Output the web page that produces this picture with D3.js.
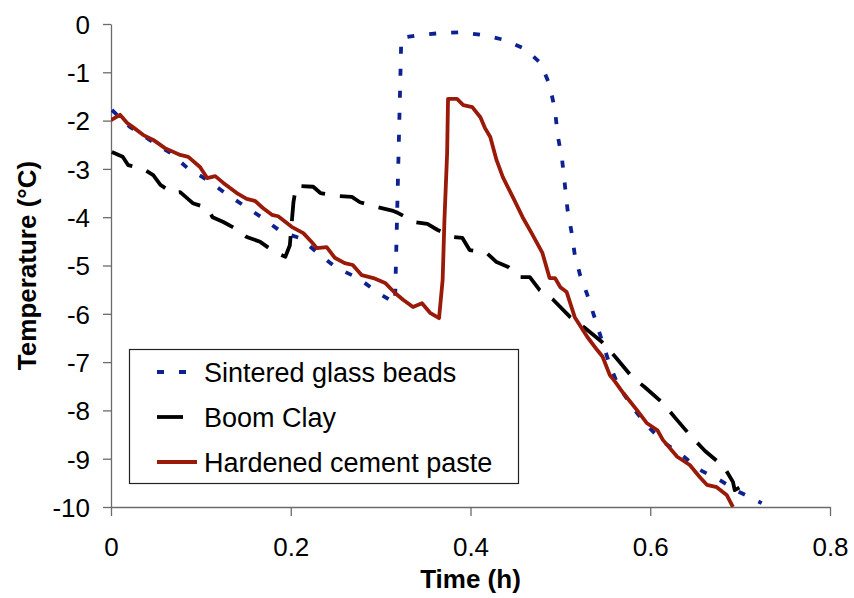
<!DOCTYPE html>
<html>
<head>
<meta charset="utf-8">
<script src="https://cdn.jsdelivr.net/npm/d3@7"></script>
<style>
  body { margin: 0; background: #fff; }
  svg { font-family: "Liberation Sans", Arial, sans-serif; }
  .axis path, .axis line { stroke: #6b6b6b; stroke-width: 1.3px; }
  .axis text { font-size: 26px; fill: #000; }
</style>
</head>
<body>
<div id="chart"></div>
<script>
/* values */

var seriesNames = ["Sintered glass beads", "Boom Clay", "Hardened cement paste"];
var xTicks = [0, 0.2, 0.4, 0.6, 0.8];
var yTicks = [0, -1, -2, -3, -4, -5, -6, -7, -8, -9, -10];

// Sintered glass beads
var glassTime = [0.001, 0.021, 0.043, 0.066, 0.085, 0.107, 0.127, 0.147, 0.169, 0.190,
  0.210, 0.230, 0.251, 0.275, 0.296, 0.316, 0.323, 0.342, 0.366, 0.389, 0.414, 0.438,
  0.461, 0.478, 0.488, 0.494, 0.497, 0.502, 0.505, 0.508, 0.513, 0.516, 0.522, 0.530,
  0.539, 0.546, 0.555, 0.564, 0.580, 0.596, 0.614, 0.635, 0.655, 0.677, 0.697, 0.724];
var glassTemp = [-1.78, -2.13, -2.40, -2.67, -2.98, -3.23, -3.50, -3.75, -4.02, -4.31,
  -4.43, -4.74, -5.05, -5.26, -5.55, -5.78, -0.29, -0.23, -0.19, -0.17, -0.23, -0.33,
  -0.52, -0.81, -1.26, -1.78, -2.30, -2.82, -3.33, -3.85, -4.37, -4.78, -5.20, -5.61,
  -6.13, -6.54, -7.06, -7.47, -7.93, -8.30, -8.65, -8.92, -9.23, -9.44, -9.67, -9.92];

// Boom Clay
var clayTime = [0.001, 0.013, 0.019, 0.036, 0.047, 0.055, 0.069, 0.077, 0.091, 0.107,
  0.113, 0.125, 0.141, 0.151, 0.166, 0.182, 0.194, 0.199, 0.203, 0.206, 0.225, 0.233,
  0.253, 0.268, 0.277, 0.296, 0.314, 0.319, 0.338, 0.352, 0.363, 0.381, 0.391, 0.399,
  0.418, 0.429, 0.442, 0.455, 0.466, 0.477, 0.492, 0.511, 0.527, 0.546, 0.561, 0.580,
  0.594, 0.614, 0.628, 0.646, 0.661, 0.682, 0.692, 0.694, 0.700, 0.711];
var clayTemp = [-2.65, -2.75, -2.92, -3.00, -3.13, -3.33, -3.50, -3.48, -3.71, -3.81,
  -4.00, -4.10, -4.26, -4.41, -4.51, -4.72, -4.82, -4.58, -3.69, -3.35, -3.37, -3.50,
  -3.56, -3.58, -3.69, -3.79, -3.87, -3.91, -4.10, -4.14, -4.26, -4.41, -4.43, -4.68,
  -4.74, -4.93, -5.03, -5.24, -5.24, -5.51, -5.71, -6.07, -6.29, -6.58, -6.89, -7.31,
  -7.52, -7.85, -8.16, -8.55, -8.84, -9.17, -9.48, -9.65, -9.59, -9.75];

// Hardened cement paste
var pasteTime = [0, 0.010, 0.018, 0.024, 0.036, 0.047, 0.060, 0.077, 0.086, 0.099,
  0.107, 0.116, 0.125, 0.140, 0.151, 0.160, 0.169, 0.179, 0.186, 0.201, 0.214, 0.224,
  0.229, 0.240, 0.249, 0.260, 0.269, 0.279, 0.292, 0.305, 0.316, 0.325, 0.336, 0.346,
  0.355, 0.365, 0.369, 0.371, 0.374, 0.375, 0.385, 0.392, 0.402, 0.411, 0.416, 0.422,
  0.429, 0.436, 0.447, 0.458, 0.468, 0.480, 0.488, 0.494, 0.500, 0.507, 0.516, 0.530,
  0.541, 0.547, 0.555, 0.561, 0.570, 0.585, 0.596, 0.608, 0.614, 0.630, 0.644, 0.655,
  0.663, 0.674, 0.685, 0.692];
var pasteTemp = [-1.99, -1.88, -2.05, -2.13, -2.30, -2.40, -2.57, -2.71, -2.75, -2.96,
  -3.19, -3.15, -3.29, -3.50, -3.62, -3.66, -3.81, -3.95, -3.98, -4.20, -4.33, -4.53,
  -4.64, -4.62, -4.84, -4.95, -4.99, -5.20, -5.26, -5.36, -5.57, -5.71, -5.86, -5.78,
  -5.98, -6.09, -5.30, -4.06, -2.67, -1.55, -1.55, -1.68, -1.72, -1.93, -2.15, -2.34,
  -2.82, -3.17, -3.58, -4.00, -4.33, -4.74, -5.26, -5.26, -5.45, -5.55, -6.07, -6.48,
  -6.75, -6.89, -7.27, -7.41, -7.64, -7.99, -8.26, -8.41, -8.61, -8.96, -9.13, -9.38,
  -9.54, -9.59, -9.75, -10.0];

var W = 854, H = 598;
var margin = {left: 111, right: 24, top: 24, bottom: 91};
var width = W - margin.left - margin.right,
  height = H - margin.top - margin.bottom;

var x = d3.scaleLinear().domain([0, 0.8]).range([0, width]);
var y = d3.scaleLinear().domain([-10, 0]).range([height, 0]);

var svg = d3.select("#chart").append("svg")
  .attr("width", W)
  .attr("height", H);

var g = svg.append("g")
  .attr("transform", `translate(${margin.left},${margin.top})`);

g.append("clipPath").attr("id", "plotclip")
  .append("rect")
  .attr("x", 0).attr("y", -5)
  .attr("width", width + 5).attr("height", height + 5);

// axes
g.append("g")
  .attr("class", "x axis")
  .attr("transform", `translate(0,${height})`)
  .call(d3.axisBottom(x).tickValues(xTicks).tickSize(9).tickPadding(22).tickSizeOuter(0)
    .tickFormat((d) => d === 0 ? "0" : d3.format(".1f")(d)));

g.append("g")
  .attr("class", "y axis")
  .call(d3.axisLeft(y).tickValues(yTicks).tickSize(8).tickPadding(13).tickSizeOuter(0)
    .tickFormat((d) => String(d)));

g.selectAll(".y.axis text").attr("dy", "0.36em");

// series
var line = d3.line()
  .x((d) => x(d[0]))
  .y((d) => y(d[1]));

var series = [
  {name: seriesNames[0], data: d3.zip(glassTime, glassTemp), color: "#0d2290", dash: "7,15"},
  {name: seriesNames[1], data: d3.zip(clayTime, clayTemp), color: "#000000", dash: "26,15"},
  {name: seriesNames[2], data: d3.zip(pasteTime, pasteTemp), color: "#9a1a0a", dash: null}
];

var layer = g.append("g").attr("clip-path", "url(#plotclip)");
series.forEach((s) => {
  layer.append("path")
    .datum(s.data)
    .attr("d", line)
    .attr("fill", "none")
    .attr("stroke", s.color)
    .attr("stroke-width", 3.8)
    .attr("stroke-linejoin", "round")
    .attr("stroke-dasharray", s.dash);
});

// axis titles
svg.append("text")
  .attr("x", margin.left + width / 2)
  .attr("y", 588)
  .attr("text-anchor", "middle")
  .style("font-size", "26px")
  .style("font-weight", "bold")
  .text("Time (h)");

svg.append("text")
  .attr("transform", `translate(36,${margin.top + height / 2}) rotate(-90)`)
  .attr("text-anchor", "middle")
  .style("font-size", "26px")
  .style("font-weight", "bold")
  .text("Temperature (°C)");

// legend
var legend = svg.append("g").attr("class", "legend");
legend.append("rect")
  .attr("x", 129.5).attr("y", 349.5)
  .attr("width", 389).attr("height", 134)
  .attr("fill", "#fff")
  .attr("stroke", "#222")
  .attr("stroke-width", 1.2);

series.forEach((s, i) => {
  var ly = 372 + i * 45;
  legend.append("line")
    .attr("x1", 157).attr("x2", 197)
    .attr("y1", ly).attr("y2", ly)
    .attr("stroke", s.color)
    .attr("stroke-width", 3.8)
    .attr("stroke-dasharray", s.dash);
  legend.append("text")
    .attr("x", 204)
    .attr("y", ly + 10)
    .style("font-size", "27px")
    .text(s.name);
});
</script>
</body>
</html>
